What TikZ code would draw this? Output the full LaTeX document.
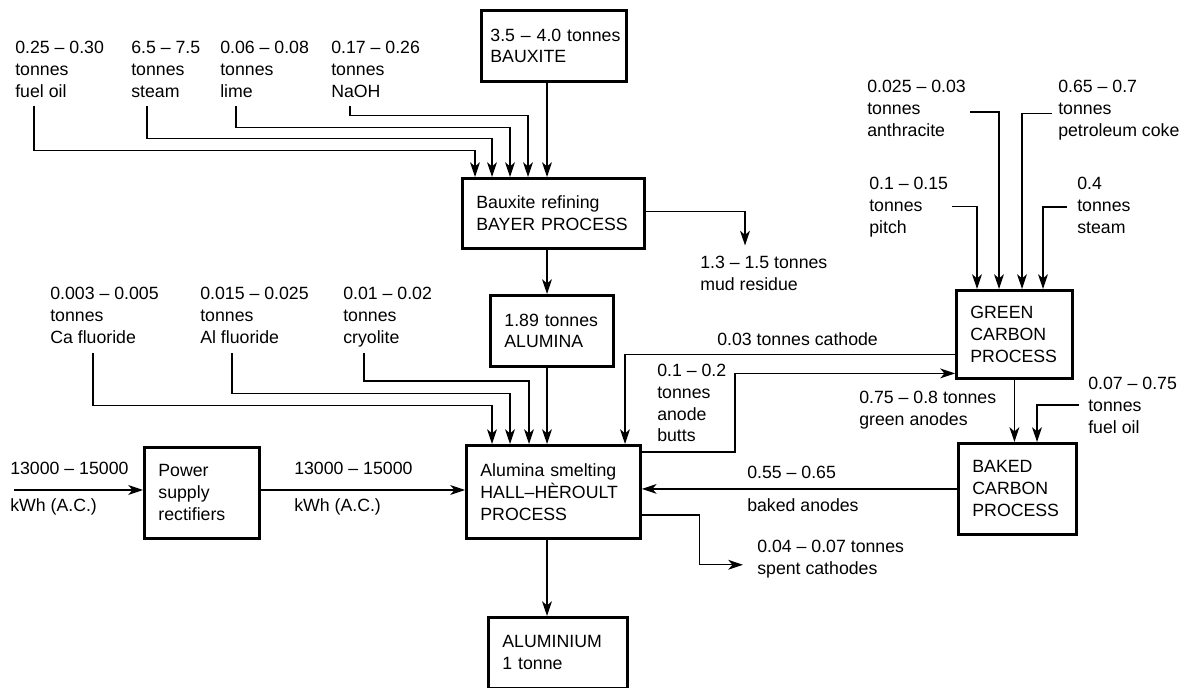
\documentclass[tikz,border=0pt]{standalone}
\usepackage{fontspec}
\setmainfont{Liberation Sans}
\usetikzlibrary{arrows.meta,calc}

\begin{document}
\begin{tikzpicture}[
  x=0.025cm, y=-0.025cm,
  font=\fontsize{12.6}{15.6}\selectfont,
  box/.style={draw, line width=2pt, anchor=north west, align=left,
              inner xsep=0.35cm, inner ysep=0pt},
  lbl/.style={anchor=north west, inner sep=0pt, align=left},
  arr/.style={-{Stealth[length=10.5pt,width=7pt,inset=3pt]}, line width=0.9pt}]
  \useasboundingbox (0,0) rectangle (1191,688);
  \coordinate (axis) at (547,0);
  \coordinate (acin) at (14,490);

  \node[box, inner xsep=0.225cm, text width=3.175cm, minimum width=3.625cm, minimum height=1.775cm]
       (baux) at (480,9) {\mbox{3.5 – 4.0 tonnes}\\BAUXITE};
  \node[box, text width=3.85cm, minimum width=4.55cm, minimum height=1.75cm]
       (bayer) at (461,177) {Bauxite refining\\\mbox{BAYER PROCESS}};
  \node[box, text width=2.375cm, minimum width=3.075cm, minimum height=1.775cm]
       (alumina) at (489,294) {\mbox{1.89 tonnes}\\ALUMINA};
  \node[box, text width=3.65cm, minimum width=4.35cm, minimum height=2.325cm]
       (hall) at (465,444) {Alumina smelting\\\mbox{HALL–HÈROULT}\\PROCESS};
  \node[box, text width=2.175cm, minimum width=2.875cm, minimum height=2.275cm]
       (power) at (143,446) {Power\\supply\\rectifiers};
  \node[box, text width=2.775cm, minimum width=3.475cm, minimum height=1.775cm]
       (alu) at (487,616) {ALUMINIUM\\1 tonne};
  \node[box, text width=2.2cm, minimum width=2.9cm, minimum height=2.2cm]
       (green) at (955,289) {GREEN\\CARBON\\PROCESS};
  \node[box, text width=2.25cm, minimum width=2.95cm, minimum height=2.275cm]
       (baked) at (957,442) {BAKED\\CARBON\\PROCESS};

  \node[lbl] (fo) at (15,40.5) {0.25 – 0.30\\tonnes\\fuel oil};
  \node[lbl] (st) at (131,40.5) {6.5 – 7.5\\tonnes\\steam};
  \node[lbl] (li) at (220,40.5) {0.06 – 0.08\\tonnes\\lime};
  \node[lbl] (na) at (331,40.5) {0.17 – 0.26\\tonnes\\NaOH};
  \node[lbl] (mud) at (700,255.5) {1.3 – 1.5 tonnes\\mud residue};
  \node[lbl] (caf) at (50,286.5) {0.003 – 0.005\\tonnes\\Ca fluoride};
  \node[lbl] (alf) at (200,286.5) {0.015 – 0.025\\tonnes\\Al fluoride};
  \node[lbl] (cry) at (343,286.5) {0.01 – 0.02\\tonnes\\cryolite};
  \node[lbl] (cath) at (717,332.5) {0.03 tonnes cathode};
  \node[lbl] (butts) at (657,363.5) {0.1 – 0.2\\tonnes\\anode\\butts};
  \node[lbl] (anth) at (867,79.5) {0.025 – 0.03\\tonnes\\anthracite};
  \node[lbl] (coke) at (1058,79.5) {0.65 – 0.7\\tonnes\\petroleum coke};
  \node[lbl] (pitch) at (869,176.5) {0.1 – 0.15\\tonnes\\pitch};
  \node[lbl] (stm) at (1077,176.5) {0.4\\tonnes\\steam};
  \node[lbl] (ga) at (859,390.5) {0.75 – 0.8 tonnes\\green anodes};
  \node[lbl] (fuel) at (1088,376.5) {0.07 – 0.75\\tonnes\\fuel oil};
  \node[lbl] (aca) at (10,461.5) {13000 – 15000};
  \node[lbl] (acb) at (10,498.5) {kWh (A.C.)};
  \node[lbl] (dca) at (294,461.5) {13000 – 15000};
  \node[lbl] (dcb) at (294,498.5) {kWh (A.C.)};
  \node[lbl] (bka) at (747,465.5) {0.55 – 0.65};
  \node[lbl] (bkb) at (747,498.5) {baked anodes};
  \node[lbl] (spent) at (757,539.5) {0.04 – 0.07 tonnes\\spent cathodes};

  \draw[arr] ($(fo.south west)+(19,9)$) -- ++(0,44) -| ($(bayer.north west)+(14,0)$);
  \draw[arr] ($(st.south west)+(16,9)$) -- ++(0,32) -| ($(bayer.north west)+(31,0)$);
  \draw[arr] ($(li.south west)+(16,9)$) -- ++(0,21) -| ($(bayer.north west)+(49,0)$);
  \draw[arr] ($(na.south west)+(19,9)$) -- ++(0,9) -| ($(bayer.north west)+(67,0)$);
  \draw[arr] (baux.south -| axis) -- (bayer.north -| axis);
  \draw[arr] ($(bayer.east)+(0,-2)$) -| ($(mud.north west)+(45,-10)$);
  \draw[arr] (bayer.south -| axis) -- (alumina.north -| axis);

  \draw[arr] ($(caf.south west)+(43,10)$) -- ++(0,52) -| ($(hall.north west)+(27,0)$);
  \draw[arr] ($(alf.south west)+(32,10)$) -- ++(0,40) -| ($(hall.north west)+(45,0)$);
  \draw[arr] ($(cry.south west)+(21,6)$) -- ++(0,28) -| ($(hall.north west)+(64,0)$);
  \draw[arr] (alumina.south -| axis) -- (hall.north -| axis);
  \draw[arr] (hall.south -| axis) -- (alu.north -| axis);

  \draw[arr] (acin) -- (acin -| power.west);
  \draw[arr] (acin -| power.east) -- (acin -| hall.west);

  \draw[arr] ($(anth.east)+(4,4)$) -| ($(green.north west)+(44,0)$);
  \draw[arr] ($(coke.west)+(-6,4)$) -| ($(green.north west)+(67,0)$);
  \draw[arr] ($(pitch.east)+(4,0)$) -| ($(green.north west)+(22,0)$);
  \draw[arr] ($(stm.west)+(-10,2)$) -| ($(green.north west)+(88,0)$);
  \draw[arr] (green.south) -- (green.south |- baked.north);
  \draw[arr] ($(fuel.west)+(-9,0)$) -| ($(baked.north west)+(80,0)$);

  \draw[arr] ($(green.west)+(0,20)$) -| ($(hall.north west)+(160,0)$);
  \draw[arr] ($(hall.north east)+(0,8)$) -| ($(green.west)+(-220,39)$) -- ($(green.west)+(0,39)$);
  \draw[arr] (baked.west) -- (baked.west -| hall.east);
  \draw[arr] ($(hall.east)+(0,23)$) -- ++(58,0) |- ($(spent.west)+(-14,6)$);
\end{tikzpicture}
\end{document}
